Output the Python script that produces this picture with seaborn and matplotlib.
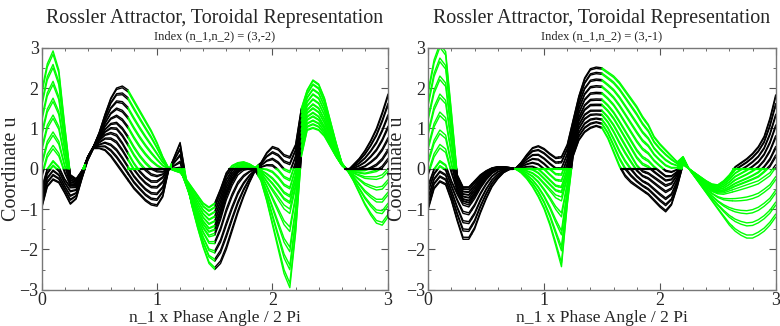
import numpy as np
import pandas as pd
import matplotlib
matplotlib.use("Agg")
import matplotlib.pyplot as plt
from matplotlib.ticker import MultipleLocator
import seaborn as sns

# ---------------------------------------------------------------- data
# phase positions (n_1 x phase angle / 2 pi) at which the traced members are sampled
phase = np.round(np.arange(0, 3.0001, 0.05), 2)

# Index (3,-2): lowest, middle and highest members of the trajectory family
left_lo = [-1.0, -0.45, -0.28, -0.35, -0.6, -0.88, -0.75, -0.25, 0.2, 0.5,
           0.5, 0.45, 0.3, 0.1, -0.1, -0.3, -0.5, -0.65, -0.8, -0.9,
           -0.93, -0.7, -0.05, 0.3, 0.65, -0.2, -0.9, -1.45, -1.95, -2.35,
           -2.5, -2.35, -2.0, -1.55, -1.1, -0.7, -0.35, -0.05, -0.3, -0.8,
           -1.4, -2.0, -2.6, -2.95, -1.6, 0.3, 0.95, 1.0, 0.95, 0.8,
           0.55, 0.3, 0.08, -0.05, -0.3, -0.6, -0.9, -1.15, -1.35, -1.4,
           -1.2]
left_mid = [-0.5, 0.0, 0.2, 0.05, -0.25, -0.45, -0.45, -0.1, 0.3, 0.55,
            0.7, 0.85, 0.9, 0.85, 0.65, 0.4, 0.15, -0.05, -0.2, -0.3,
            -0.3, -0.2, 0.0, 0.0, 0.0, -0.4, -0.8, -1.15, -1.45, -1.65,
            -1.6, -1.2, -0.7, -0.35, -0.1, 0.0, 0.02, 0.0, -0.1, -0.3,
            -0.5, -0.7, -0.9, -1.0, -0.4, 0.8, 1.3, 1.4, 1.3, 1.05,
            0.7, 0.35, 0.1, -0.05, -0.1, -0.15, -0.2, -0.2, -0.2, -0.15,
            0.0]
left_hi = [1.9, 2.6, 2.92, 2.45, 1.1, -0.15, -0.25, -0.05, 0.25, 0.55,
           0.9, 1.35, 1.75, 2.0, 2.05, 1.95, 1.7, 1.45, 1.2, 0.95,
           0.65, 0.3, 0.02, -0.05, -0.1, -0.25, -0.45, -0.65, -0.85, -0.95,
           -0.85, -0.5, -0.1, 0.08, 0.15, 0.17, 0.12, 0.03, 0.15, 0.4,
           0.55, 0.5, 0.35, 0.3, 0.6, 1.5, 1.95, 2.2, 2.1, 1.75,
           1.2, 0.65, 0.15, -0.05, 0.1, 0.25, 0.45, 0.7, 1.0, 1.4,
           1.85]

# Index (3,-1)
right_lo = [-1.0, -0.5, -0.33, -0.4, -0.8, -1.3, -1.75, -1.75, -1.5, -1.1,
            -0.75, -0.45, -0.25, -0.1, -0.02, 0.0, -0.1, -0.25, -0.45, -0.7,
            -1.0, -1.4, -1.9, -2.43, -0.9, 0.3, 0.7, 0.9, 1.0, 1.05,
            1.0, 0.75, 0.4, 0.05, -0.2, -0.35, -0.45, -0.55, -0.65, -0.8,
            -0.95, -1.07, -0.9, -0.45, 0.1, 0.0, -0.2, -0.4, -0.6, -0.8,
            -1.0, -1.2, -1.4, -1.55, -1.65, -1.72, -1.72, -1.65, -1.55, -1.4,
            -1.2]
right_mid = [-0.4, 0.0, 0.2, 0.1, -0.3, -0.6, -0.85, -0.9, -0.7, -0.45,
             -0.25, -0.1, -0.02, 0.0, 0.0, 0.0, -0.02, -0.05, -0.1, -0.2,
             -0.35, -0.5, -0.65, -0.7, -0.2, 0.6, 1.1, 1.35, 1.45, 1.45,
             1.45, 1.3, 1.1, 0.85, 0.6, 0.35, 0.1, -0.05, -0.1, -0.2,
             -0.3, -0.4, -0.35, -0.15, 0.15, 0.0, -0.15, -0.3, -0.45, -0.55,
             -0.6, -0.6, -0.55, -0.5, -0.45, -0.4, -0.35, -0.3, -0.2, -0.1,
             0.1]
right_hi = [1.95, 2.7, 3.1, 2.9, 1.4, -0.15, -0.45, -0.45, -0.3, -0.15,
            -0.05, 0.02, 0.05, 0.05, 0.03, 0.0, 0.15, 0.35, 0.52, 0.57,
            0.5, 0.38, 0.28, 0.3, 0.6, 1.2, 1.8, 2.25, 2.48, 2.52,
            2.5, 2.4, 2.3, 2.15, 1.95, 1.75, 1.55, 1.3, 1.1, 0.8,
            0.62, 0.47, 0.32, 0.17, 0.3, 0.0, -0.1, -0.2, -0.3, -0.38,
            -0.4, -0.3, -0.15, 0.05, 0.15, 0.25, 0.38, 0.55, 0.8, 1.25,
            1.83]

# position of each drawn member inside the family (0 = lowest, 1 = highest)
members = [0.0, 0.02, 0.08, 0.1, 0.16, 0.18, 0.25, 0.27, 0.33, 0.35, 0.42, 0.44,
           0.5, 0.52, 0.6, 0.62, 0.7, 0.72, 0.8, 0.82, 0.9, 0.92, 0.98, 1.0]
mid_member = 0.35

# sheets of the torus and the colour of the positive / negative branch on each
sheet_edges = [0.0, 0.375, 0.75, 1.125, 1.5, 1.875, 2.25, 2.625, 3.0]
left_pos = ["green", "black", "green", "black", "green", "black", "green", "black"]
left_neg = ["black", "black", "black", "green", "black", "green", "green", "green"]
right_pos = ["green", "black", "black", "black", "green", "green", "black", "black"]
right_neg = ["black", "black", "green", "green", "black", "black", "green", "green"]

# stretches where the trajectories sit on u = 0
left_flat_start = [0.75, 0.84, 1.62, 2.63]
left_flat_end = [0.84, 1.11, 1.86, 2.95]
left_flat_colour = ["green", "black", "black", "black"]
right_flat_start = [0.55, 0.75, 1.66, 2.63]
right_flat_end = [0.73, 1.21, 1.97, 2.91]
right_flat_colour = ["black", "green", "black", "green"]

panels = [
    ("Index (n_1,n_2) = (3,-2)", left_lo, left_mid, left_hi, left_pos, left_neg,
     left_flat_start, left_flat_end, left_flat_colour),
    ("Index (n_1,n_2) = (3,-1)", right_lo, right_mid, right_hi, right_pos, right_neg,
     right_flat_start, right_flat_end, right_flat_colour),
]
palette = {"black": "#000000", "green": "#00ff00"}


def member_curve(lo, mid, hi, f):
    lo, mid, hi = map(np.asarray, (lo, mid, hi))
    if f <= mid_member:
        return lo + (f / mid_member) * (mid - lo)
    return mid + (f - mid_member) / (1 - mid_member) * (hi - mid)


def with_cuts(x, y, edges):
    """Add the sheet edges and the zero crossings as vertices of the polyline."""
    px, py = [], []
    for i in range(len(x) - 1):
        x0, y0, x1, y1 = x[i], y[i], x[i + 1], y[i + 1]
        px.append(x0)
        py.append(y0)
        cuts = [(e, None) for e in edges if x0 < e < x1]
        if y0 * y1 < 0:
            cuts.append((x0 + (x1 - x0) * y0 / (y0 - y1), 0.0))
        for c, yc in sorted(cuts):
            px.append(c)
            py.append(y0 + (y1 - y0) * (c - x0) / (x1 - x0) if yc is None else 0.0)
    px.append(x[-1])
    py.append(y[-1])
    return np.array(px), np.array(py)


def runs(mask):
    idx = np.flatnonzero(mask)
    if idx.size == 0:
        return []
    splits = np.flatnonzero(np.diff(idx) > 1) + 1
    return [r for r in np.split(idx, splits) if r.size > 1]


def build_frame(lo, mid, hi, pos_cols, neg_cols):
    rows = []
    piece = 0
    for f in members:
        u = member_curve(lo, mid, hi, f)
        xs, us = with_cuts(phase, u, sheet_edges)
        for k in range(len(sheet_edges) - 1):
            a, b = sheet_edges[k], sheet_edges[k + 1]
            inside = (xs >= a - 1e-9) & (xs <= b + 1e-9)
            sx, su = xs[inside], us[inside]
            if pos_cols[k] == neg_cols[k]:
                parts = [(np.arange(sx.size), pos_cols[k])]
            else:
                parts = [(r, pos_cols[k]) for r in runs(su >= -1e-12)]
                parts += [(r, neg_cols[k]) for r in runs(su <= 1e-12)]
            for r, col in parts:
                for xv, uv in zip(sx[r], su[r]):
                    rows.append((xv, uv, piece, col))
                piece += 1
    return pd.DataFrame(rows, columns=["phase", "u", "piece", "colour"])


def flat_frame(starts, ends, colours):
    rows = []
    for i, (a, b, c) in enumerate(zip(starts, ends, colours)):
        rows += [(a, 0.0, i, c), (b, 0.0, i, c)]
    return pd.DataFrame(rows, columns=["phase", "u", "piece", "colour"])


# ---------------------------------------------------------------- figure
sns.set_style("ticks")
plt.rcParams["font.family"] = ["Liberation Serif", "DejaVu Serif"]
plt.rcParams["axes.linewidth"] = 1.0

W, H = 780, 326
fig = plt.figure(figsize=(W / 100, H / 100), dpi=100)
boxes = [(41.5, 36.3, 346.5, 242.0), (428.3, 36.3, 347.4, 242.0)]

for (sub, lo, mid, hi, pc, nc, fs, fe, fc), (x0, y0, w, h) in zip(panels, boxes):
    ax = fig.add_axes([x0 / W, y0 / H, w / W, h / H])
    df = build_frame(lo, mid, hi, pc, nc)
    sns.lineplot(data=df, x="phase", y="u", units="piece", estimator=None,
                 hue="colour", hue_order=["black", "green"], palette=palette,
                 sort=False, legend=False, linewidth=1.0, ax=ax)
    sns.lineplot(data=flat_frame(fs, fe, fc), x="phase", y="u", units="piece",
                 estimator=None, hue="colour", hue_order=["black", "green"],
                 palette=palette, sort=False, legend=False, linewidth=1.6, ax=ax)
    ax.set_xlim(0, 3)
    ax.set_ylim(-3, 3)
    ax.set_xticks([0, 1, 2, 3])
    ax.set_yticks([-3, -2, -1, 0, 1, 2, 3])
    ax.xaxis.set_minor_locator(MultipleLocator(0.2))
    ax.yaxis.set_minor_locator(MultipleLocator(0.5))
    ax.tick_params(which="both", direction="in", top=True, right=True,
                   labelsize=13, pad=2, color="#555555")
    ax.tick_params(which="major", length=5)
    ax.tick_params(which="minor", length=2.5)
    for s in ax.spines.values():
        s.set_color("#777777")
    ax.set_xlabel("n_1 x Phase Angle / 2 Pi", fontsize=12.5)
    ax.set_ylabel("Coordinate u", fontsize=14.5)
    ax.xaxis.set_label_coords(0.5, -0.085)
    ax.yaxis.set_label_coords(-0.06, 0.5)
    cx = (x0 + w / 2) / W
    fig.text(cx, 1 - 23 / H, "Rossler Attractor, Toroidal Representation",
             ha="center", va="baseline", fontsize=14.4)
    fig.text(cx, 1 - 39 / H, sub, ha="center", va="baseline", fontsize=9)

fig.savefig("out.png", dpi=100)
